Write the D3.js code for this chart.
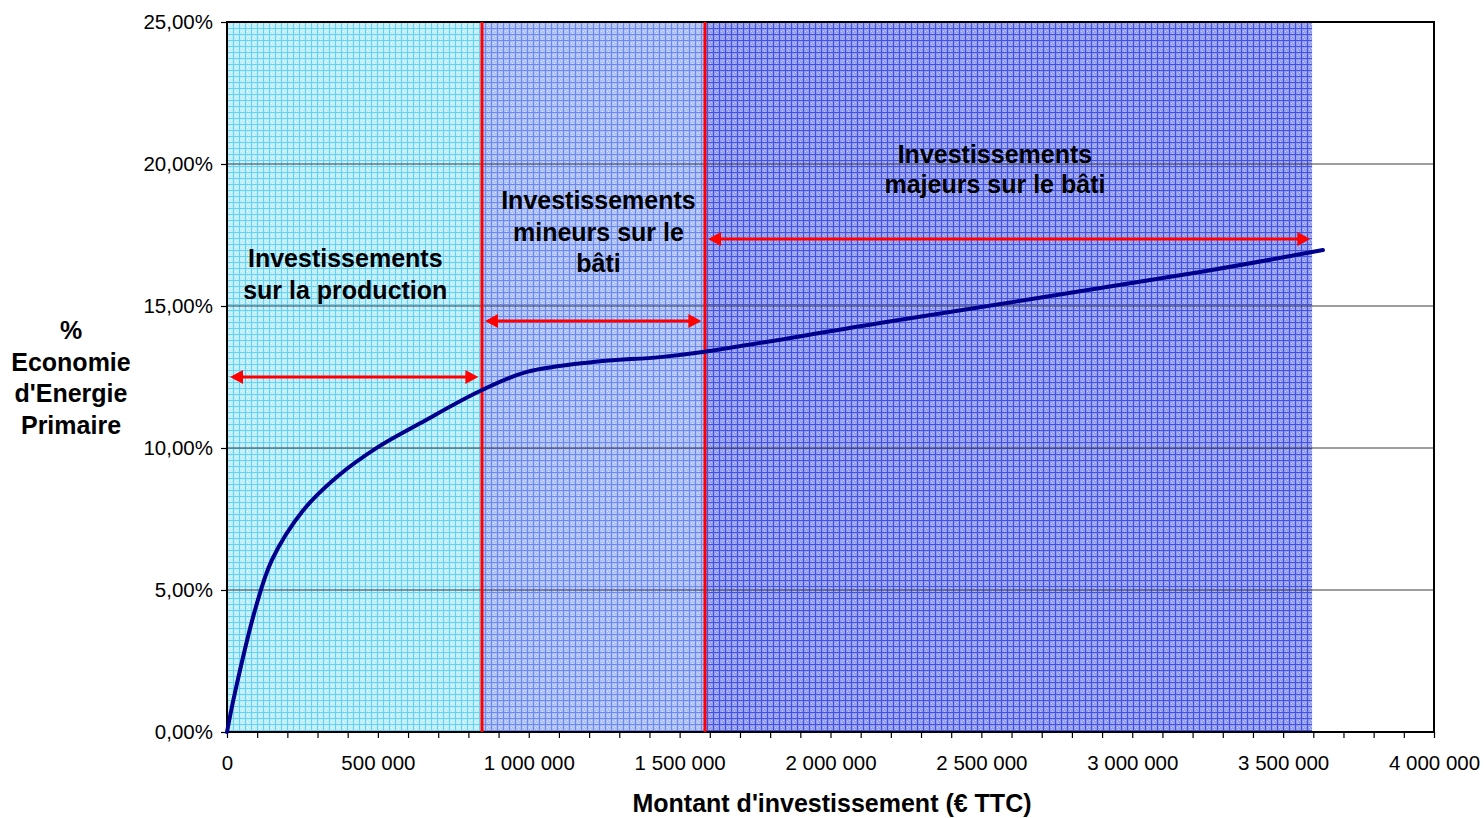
<!DOCTYPE html>
<html lang="fr">
<head>
    <meta charset="UTF-8" />
    <title>Economie d'Energie Primaire</title>
    <script src="https://d3js.org/d3.v7.min.js"></script>
    <style>
        body {
            margin: 0;
            background: #ffffff;
            font-family: "Liberation Sans", Arial, sans-serif;
        }
        svg { display: block; }
        .tick text { font-size: 20.5px; fill: #000; font-family: "Liberation Sans", Arial, sans-serif; }
        .lbl { font-size: 25px; font-weight: bold; fill: #000; }
    </style>
</head>
<body>
<div id="chart"></div>
<script>
    // Curve: investment (€) vs primary energy saving (%)
    const invest = [0, 26000, 93000, 149000, 252000, 364000, 500000, 640000, 845000, 994000, 1213000, 1435000, 1577000, 2164000, 3225000, 3632000];
    const saving = [0, 1.37, 4.3, 6.06, 7.8, 8.98, 10.03, 10.87, 12.04, 12.68, 13.03, 13.2, 13.38, 14.4, 16.2, 16.97];

    // Shaded zones (limits in €)
    const zoneStart = [0, 845000, 1584000];
    const zoneEnd = [845000, 1584000, 3596000];
    const zoneFill = ["url(#patCyan)", "url(#patBlue)", "url(#patDark)"];

    // Red double arrows: from, to, level (%)
    const arrowFrom = [10000, 855000, 1594000];
    const arrowTo = [833000, 1572000, 3590000];
    const arrowLevel = [12.5, 14.47, 17.36];

    // Vertical red separators
    const separators = [845000, 1584000];

    // Zone captions
    const captions = [
        ["Investissements", "sur la production"],
        ["Investissements", "mineurs sur le", "bâti"],
        ["Investissements", "majeurs sur le bâti"]
    ];
    const captionX = [392000, 1231000, 2545000];
    const captionTop = [16.36, 18.4, 20.05];

    const yTicks = [0, 5, 10, 15, 20, 25];
    const xMax = 4000000;
    const yMax = 25;

    const width = 1484, height = 818;
    const margin = { top: 22, right: 50, bottom: 86, left: 227 };
    const w = width - margin.left - margin.right;
    const h = height - margin.top - margin.bottom;

    const svg = d3.select("#chart").append("svg")
        .attr("width", width)
        .attr("height", height);

    // Fill patterns imitating the dithered shading
    const defs = svg.append("defs");
    function makePattern(id, base, line, dot) {
        const p = defs.append("pattern")
            .attr("id", id)
            .attr("patternUnits", "userSpaceOnUse")
            .attr("width", 6).attr("height", 6);
        p.append("rect").attr("width", 6).attr("height", 6).attr("fill", base);
        p.append("rect").attr("x", 0).attr("y", 0).attr("width", 6).attr("height", 1).attr("fill", line);
        p.append("rect").attr("x", 0).attr("y", 0).attr("width", 1).attr("height", 6).attr("fill", line);
        p.append("rect").attr("x", 2).attr("y", 3).attr("width", 1).attr("height", 1).attr("fill", dot);
        p.append("rect").attr("x", 4).attr("y", 2).attr("width", 1).attr("height", 1).attr("fill", dot);
        p.append("rect").attr("x", 3).attr("y", 5).attr("width", 1).attr("height", 1).attr("fill", dot);
    }
    makePattern("patCyan", "#bdeefc", "#66d2f3", "#eefbff");
    makePattern("patBlue", "#adc0f8", "#6c88f1", "#dde5fd");
    makePattern("patDark", "#939ef2", "#4452e4", "#cacff9");

    const g = svg.append("g").attr("transform", `translate(${margin.left},${margin.top})`);

    const x = d3.scaleLinear().domain([0, xMax]).range([0, w]);
    const y = d3.scaleLinear().domain([0, yMax]).range([h, 0]);

    // Zones
    g.selectAll("rect.zone").data(zoneStart).join("rect")
        .attr("class", "zone")
        .attr("x", d => x(d))
        .attr("y", 0)
        .attr("width", (d, i) => x(zoneEnd[i]) - x(d))
        .attr("height", h)
        .attr("fill", (d, i) => zoneFill[i]);

    // Horizontal gridlines
    g.selectAll("line.grid").data(yTicks.filter(t => t > 0 && t < yMax)).join("line")
        .attr("class", "grid")
        .attr("x1", 0).attr("x2", w)
        .attr("y1", d => y(d)).attr("y2", d => y(d))
        .attr("stroke", "#3c3c3c")
        .attr("stroke-width", 1);

    // Axes
    const fmtPct = d => d3.format(".2f")(d).replace(".", ",") + "%";
    const fmtEur = d => d3.format(",")(d).replace(/,/g, " ");

    const yAxis = g.append("g")
        .call(d3.axisLeft(y).tickValues(yTicks).tickFormat(fmtPct).tickSize(6).tickPadding(8));
    const xAxis = g.append("g")
        .attr("transform", `translate(0,${h})`)
        .call(d3.axisBottom(x).tickValues(d3.range(0, xMax + 1, 100000))
            .tickFormat(d => d % 500000 === 0 ? fmtEur(d) : "").tickSize(6).tickPadding(17));
    [xAxis, yAxis].forEach(a => {
        a.select(".domain").remove();
        a.selectAll(".tick line").attr("stroke", "#000").attr("stroke-width", 1.2);
    });

    // Frame
    g.append("rect")
        .attr("x", 0).attr("y", 0).attr("width", w).attr("height", h)
        .attr("fill", "none").attr("stroke", "#000").attr("stroke-width", 2);

    // Red separators
    g.selectAll("line.sep").data(separators).join("line")
        .attr("class", "sep")
        .attr("x1", d => x(d)).attr("x2", d => x(d))
        .attr("y1", 0).attr("y2", h)
        .attr("stroke", "#ff0000").attr("stroke-width", 3);

    // Curve
    const pts = invest.map((v, i) => [v, saving[i]]);
    g.append("path")
        .datum(pts)
        .attr("fill", "none")
        .attr("stroke", "#00008b")
        .attr("stroke-width", 4)
        .attr("stroke-linecap", "round")
        .attr("d", d3.line().x(d => x(d[0])).y(d => y(d[1])).curve(d3.curveCatmullRom.alpha(0.5)));

    // Double arrows
    const head = 13, half = 7;
    arrowFrom.forEach((a, i) => {
        const x0 = x(a), x1 = x(arrowTo[i]), yy = y(arrowLevel[i]);
        g.append("line")
            .attr("x1", x0 + head - 1).attr("x2", x1 - head + 1)
            .attr("y1", yy).attr("y2", yy)
            .attr("stroke", "#ff0000").attr("stroke-width", 3);
        g.append("path")
            .attr("d", `M${x0},${yy}L${x0 + head},${yy - half}L${x0 + head},${yy + half}Z`)
            .attr("fill", "#ff0000");
        g.append("path")
            .attr("d", `M${x1},${yy}L${x1 - head},${yy - half}L${x1 - head},${yy + half}Z`)
            .attr("fill", "#ff0000");
    });

    // Zone captions
    captions.forEach((lines, i) => {
        const t = g.append("text")
            .attr("class", "lbl")
            .attr("text-anchor", "middle")
            .attr("x", x(captionX[i]))
            .attr("y", y(captionTop[i]));
        lines.forEach((s, j) => {
            t.append("tspan").attr("x", x(captionX[i])).attr("dy", j === 0 ? 0 : (i === 2 ? 30.5 : 31.5)).text(s);
        });
    });

    // Axis titles
    const yTitle = ["%", "Economie", "d'Energie", "Primaire"];
    const yt = svg.append("text").attr("class", "lbl").attr("text-anchor", "middle")
        .attr("x", 71).attr("y", 339);
    yTitle.forEach((s, j) => yt.append("tspan").attr("x", 71).attr("dy", j === 0 ? 0 : 31.7).text(s));

    svg.append("text").attr("class", "lbl").attr("text-anchor", "middle")
        .attr("x", 832).attr("y", 812)
        .text("Montant d'investissement (€ TTC)");
</script>
</body>
</html>
